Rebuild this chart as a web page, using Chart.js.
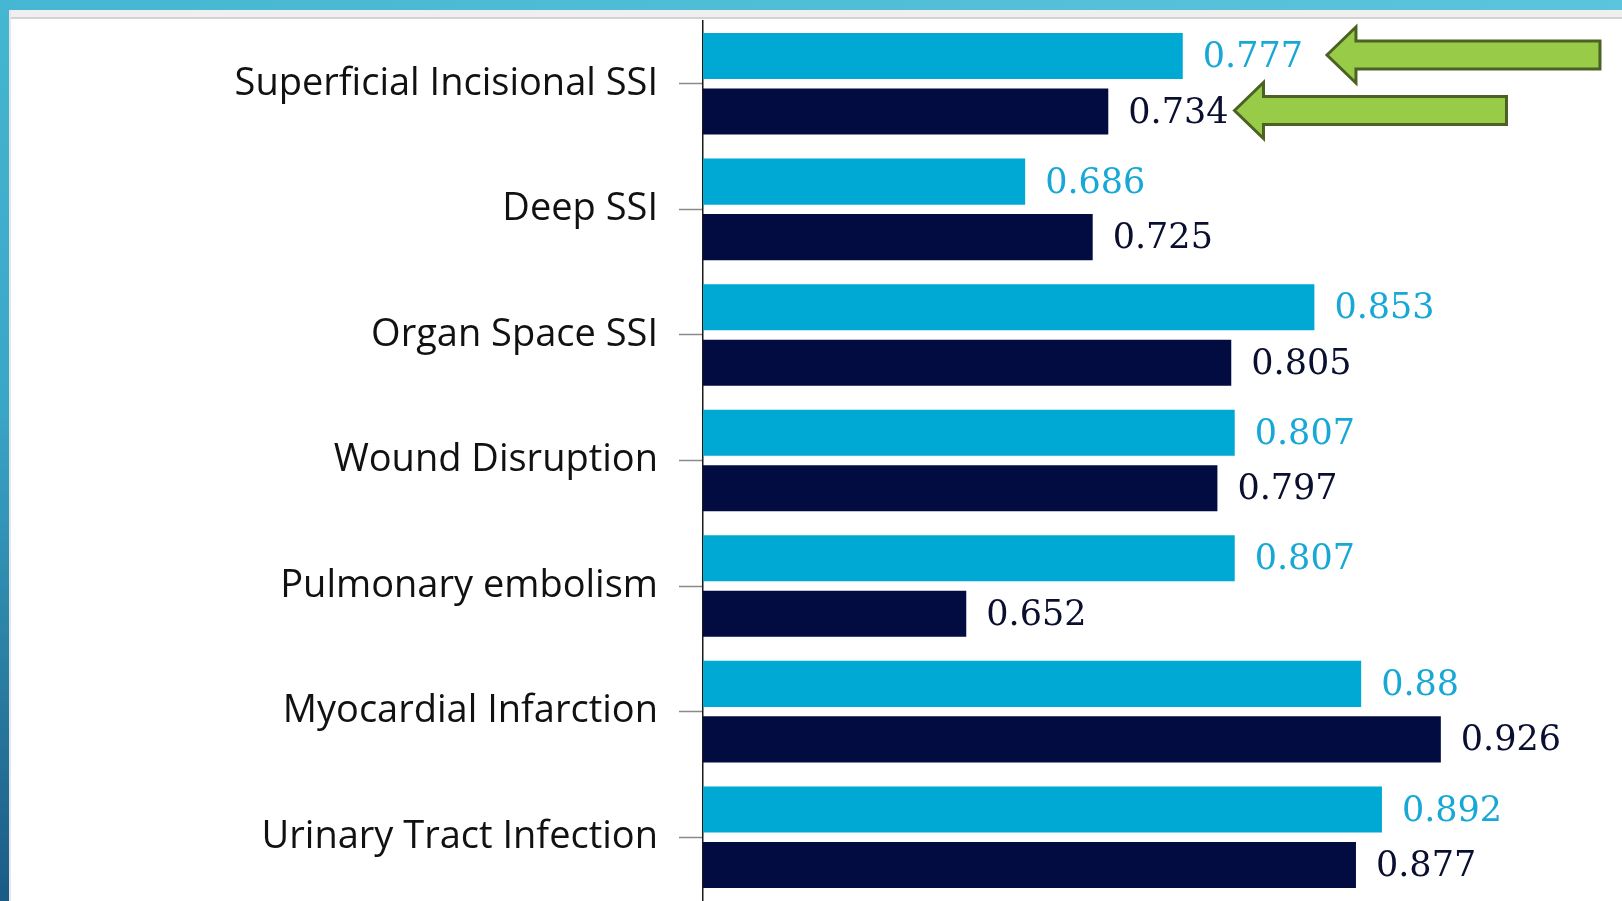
<!DOCTYPE html>
<html>
<head>
<meta charset="utf-8">
<script src="https://cdn.jsdelivr.net/npm/chart.js@4/dist/chart.umd.min.js"></script>
<style>
  html, body { margin: 0; padding: 0; width: 1622px; height: 901px; overflow: hidden; background: #ffffff; }
  #topband { position: absolute; left: 0; top: 0; width: 1622px; height: 10px;
    background: linear-gradient(to right, #45b7d2, #5cc4dc); }
  #topstrip { position: absolute; left: 9px; top: 10px; width: 1613px; height: 7px; background: #efefef;
    border-bottom: 2px solid #d2d2d2; }
  #leftband { position: absolute; left: 0; top: 0; width: 9px; height: 901px;
    background: linear-gradient(to bottom, #45b7d2 0%, #3aa6c6 45%, #1b5b85 100%); }
  #leftstrip { position: absolute; left: 9px; top: 10px; width: 2px; height: 891px; background: #e6e6e6; }
  #wrap { position: absolute; left: 0; top: 0; width: 1622px; height: 901px; }
</style>
</head>
<body>
<div id="topband"></div>
<div id="topstrip"></div>
<div id="leftband"></div>
<div id="leftstrip"></div>
<div id="wrap"><canvas id="c" width="1622" height="901"></canvas></div>
<script>
const categories = ['Superficial Incisional SSI', 'Deep SSI', 'Organ Space SSI', 'Wound Disruption',
                    'Pulmonary embolism', 'Myocardial Infarction', 'Urinary Tract Infection'];
const seriesA = [0.777, 0.686, 0.853, 0.807, 0.807, 0.88, 0.892];
const seriesB = [0.734, 0.725, 0.805, 0.797, 0.652, 0.926, 0.877];
const xMin = 0.5;
const xMax = 1.0;
// arrows pointing at the value labels of the first category
const arrowDataset = [0, 1];
const arrowIndex = [0, 0];

const colA = '#00a9d3';
const colB = '#020c40';
const txtA = '#17a8d6';
const txtB = '#0a0f30';

const valueLabels = {
  id: 'valueLabels',
  afterDatasetsDraw(chart) {
    const ctx = chart.ctx;
    ctx.save();
    ctx.font = '35px "DejaVu Serif"';
    ctx.textBaseline = 'middle';
    ctx.textAlign = 'left';
    chart.data.datasets.forEach((ds, di) => {
      const meta = chart.getDatasetMeta(di);
      meta.data.forEach((bar, i) => {
        ctx.fillStyle = di === 0 ? txtA : txtB;
        ctx.fillText(String(ds.data[i]), bar.x + 20, bar.y + 2);
      });
    });
    ctx.restore();
  }
};

const arrows = {
  id: 'arrows',
  afterDatasetsDraw(chart) {
    const ctx = chart.ctx;
    ctx.save();
    ctx.font = '35px "DejaVu Serif"';
    const gaps = [24, 6];
    const lengths = [273, 272];
    arrowDataset.forEach((di, k) => {
      const bar = chart.getDatasetMeta(di).data[arrowIndex[k]];
      const w = ctx.measureText(String(chart.data.datasets[di].data[arrowIndex[k]])).width;
      const tip = bar.x + 20 + w + gaps[k];
      const tail = tip + lengths[k];
      const cy = bar.y - 1;
      const headLen = 29, headH = 28, shaftH = 14;
      ctx.beginPath();
      ctx.moveTo(tip, cy);
      ctx.lineTo(tip + headLen, cy - headH);
      ctx.lineTo(tip + headLen, cy - shaftH);
      ctx.lineTo(tail, cy - shaftH);
      ctx.lineTo(tail, cy + shaftH);
      ctx.lineTo(tip + headLen, cy + shaftH);
      ctx.lineTo(tip + headLen, cy + headH);
      ctx.closePath();
      ctx.fillStyle = '#98cc48';
      ctx.fill();
      ctx.lineWidth = 3;
      ctx.strokeStyle = '#4b6224';
      ctx.lineJoin = 'miter';
      ctx.stroke();
    });
    ctx.restore();
  }
};

new Chart(document.getElementById('c'), {
  type: 'bar',
  data: {
    labels: categories,
    datasets: [
      { data: seriesA, backgroundColor: colA, borderWidth: 0, barPercentage: 0.83, categoryPercentage: 0.884 },
      { data: seriesB, backgroundColor: colB, borderWidth: 0, barPercentage: 0.83, categoryPercentage: 0.884 }
    ]
  },
  options: {
    indexAxis: 'y',
    responsive: false,
    animation: false,
    layout: { padding: { top: 21, bottom: 1, right: 53, left: 0 } },
    plugins: { legend: { display: false }, title: { display: false }, tooltip: { enabled: false } },
    scales: {
      x: { display: false, min: xMin, max: xMax },
      y: {
        afterFit(scale) { scale.width = 703; scale.paddingTop = 0; scale.paddingBottom = 0; },
        border: { display: true, color: '#1a1a1a', width: 1.5 },
        grid: { display: true, offset: false, drawOnChartArea: false, drawTicks: true, tickLength: 24, tickColor: '#8a8a8a', tickWidth: 1.5 },
        ticks: { padding: 21, color: '#111111', font: { family: '"Open Sans"', size: 38 } }
      }
    }
  },
  plugins: [valueLabels, arrows]
});
</script>
</body>
</html>
